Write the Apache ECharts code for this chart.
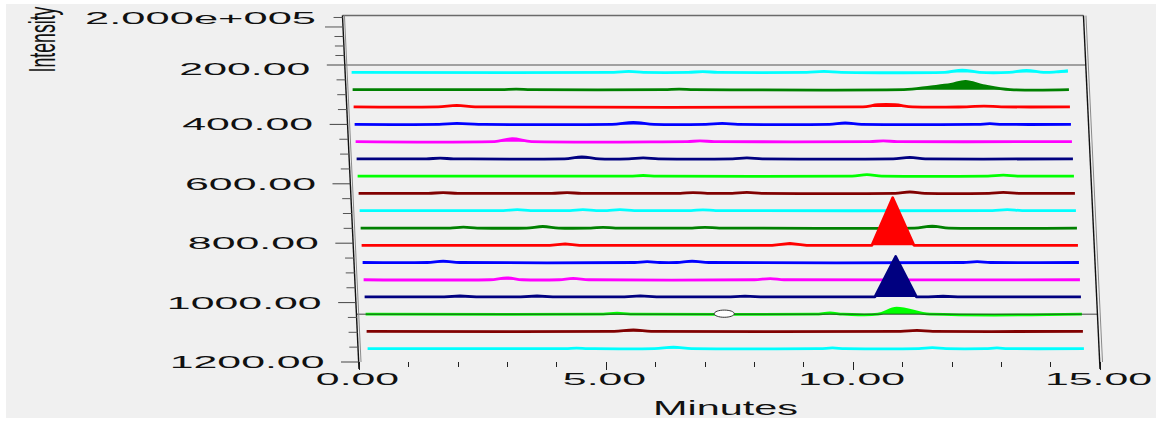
<!DOCTYPE html>
<html><head><meta charset="utf-8">
<script src="https://cdn.jsdelivr.net/npm/echarts@6/dist/echarts.min.js"></script>
<style>html,body{margin:0;padding:0;background:#fff}#c{width:1162px;height:421px}</style>
</head><body><div id="c"></div>
<script>
// ---------- data ----------
const depths = [225, 283, 341, 400, 458, 516, 574, 632, 690, 749, 807, 865, 923, 981, 1039, 1097, 1155];
// each trace: [minutes, intensity]
const trace_225 = [[0.19,0],[5.5,0],[5.8,4000],[6.1,0],[7.0,0],[7.3,3500],[7.6,0],[9.4,0],[9.75,4000],[10.1,0],[12.2,0],[12.55,10000],[12.9,0],[13.5,0],[13.85,8000],[14.2,0],[14.45,2000],[14.69,7000]];
const trace_283 = [[0.19,0],[3.2,0],[3.5,2000],[3.8,0],[6.5,0],[6.8,2500],[7.1,0],[11.35,0],[11.9,12000],[12.3,22000],[12.6,35000],[12.95,17000],[13.5,0],[14.69,0]];
const trace_341 = [[0.19,0],[1.9,0],[2.28,6000],[2.65,0],[10.5,0],[10.8,9000],[11.15,9000],[11.5,0],[12.6,0],[12.95,3500],[13.3,0],[14.69,0]];
const trace_400 = [[0.19,0],[1.9,0],[2.26,4000],[2.7,0],[5.4,0],[5.83,8000],[6.25,0],[7.3,0],[7.63,4000],[7.95,0],[9.8,0],[10.12,6000],[10.45,0],[12.8,0],[13.05,3000],[13.3,0],[14.69,0]];
const trace_458 = [[0.19,0],[3.0,0],[3.36,12000],[3.75,0],[6.9,0],[7.16,3000],[7.45,0],[10.6,0],[10.87,3000],[11.15,0],[14.69,0]];
const trace_516 = [[0.19,0],[1.6,0],[1.88,3000],[2.15,0],[4.4,0],[4.75,8000],[5.1,0],[5.7,0],[5.99,4000],[6.3,0],[7.8,0],[8.09,4000],[8.4,0],[11.05,0],[11.39,6000],[11.7,0],[14.69,0]];
const trace_574 = [[0.19,0],[5.7,0],[5.97,2500],[6.25,0],[10.2,0],[10.5,6000],[10.8,0],[12.95,0],[13.26,4000],[13.55,0],[14.69,0]];
const trace_632 = [[0.19,0],[1.6,0],[1.9,2500],[2.2,0],[4.1,0],[4.41,2500],[4.7,0],[6.7,0],[6.96,3000],[7.25,0],[7.75,0],[8.05,4000],[8.35,0],[11.05,0],[11.35,6000],[11.65,0],[12.95,0],[13.24,4000],[13.55,0],[14.69,0]];
const trace_690 = [[0.19,0],[3.1,0],[3.38,4000],[3.65,0],[4.45,0],[4.71,4000],[4.98,0],[5.2,0],[5.46,4000],[5.75,0],[6.9,0],[7.14,3000],[7.4,0],[13.0,0],[13.3,4000],[13.6,0],[14.69,0]];
const trace_749 = [[0.19,0],[2.0,0],[2.27,3500],[2.55,0],[3.55,0],[3.88,6500],[4.2,0],[4.85,0],[5.1,3000],[5.35,0],[6.9,0],[7.16,3000],[7.45,0],[11.4,0],[11.76,8500],[12.1,0],[14.69,0]];
const trace_807 = [[0.19,0],[4.0,0],[4.31,6000],[4.6,0],[8.5,0],[8.86,8000],[9.2,0],[10.52,0],[10.94,200000],[11.37,0],[14.69,0]];
const trace_865 = [[0.19,0],[1.5,0],[1.82,6000],[2.15,0],[5.7,0],[5.95,4000],[6.2,0],[6.55,0],[6.86,6000],[7.2,0],[12.35,0],[12.63,4000],[12.9,0],[14.69,0]];
const trace_923 = [[0.19,0],[2.75,0],[3.09,8000],[3.4,0],[4.15,0],[4.43,6000],[4.75,0],[8.1,0],[8.42,5000],[8.7,0],[14.69,0]];
const trace_981 = [[0.19,0],[1.8,0],[2.12,4000],[2.45,0],[3.35,0],[3.68,4000],[4.0,0],[5.45,0],[5.77,4500],[6.1,0],[7.6,0],[7.89,3500],[8.2,0],[10.52,0],[10.94,170000],[11.36,0],[11.6,0],[11.9,3000],[12.2,0],[14.69,0]];
const trace_1039 = [[0.19,0],[5.0,0],[5.28,4000],[5.55,0],[9.3,0],[9.59,5000],[9.85,0],[10.56,0],[10.94,25000],[11.61,0],[14.69,0]];
const trace_1097 = [[0.19,0],[5.2,0],[5.59,6000],[5.95,0],[11.0,0],[11.33,4000],[11.65,0],[14.69,0]];
const trace_1155 = [[0.19,0],[4.2,0],[4.42,2500],[4.65,0],[6.0,0],[6.38,6000],[6.75,0],[9.35,0],[9.6,3000],[9.85,0],[11.35,0],[11.62,4000],[11.9,0],[12.7,0],[12.93,3000],[13.15,0],[14.69,0]];
const traces = [trace_225, trace_283, trace_341, trace_400, trace_458, trace_516, trace_574, trace_632, trace_690, trace_749, trace_807, trace_865, trace_923, trace_981, trace_1039, trace_1097, trace_1155];

const xTickValues = [0, 5, 10, 15];
const xTickLabels = ['0.00', '5.00', '10.00', '15.00'];
const depthTickValues = [200, 400, 600, 800, 1000, 1200];
const depthTickLabels = ['200.00', '400.00', '600.00', '800.00', '1000.00', '1200.00'];
const depthMinorTicks = [250, 300, 350, 450, 500, 550, 650, 700, 750, 850, 900, 950, 1050, 1100, 1150];
const intensityTicks = [40000, 80000, 120000, 160000, 200000];
const intensityMajor = [160000];
const intensityMax = 200000;
const intensityMaxLabel = '2.000e+005';
const frameTopIntensity = 208000;
const selectedTraceIndex = 14;
const markerMinutes = 7.45;
const xAxisTitle = 'Minutes';
const yAxisTitle = 'Intensity';

// ---------- style / projection constants ----------
const palette = ['#00ffff', '#008000', '#ff0000', '#0000ff', '#ff00ff', '#000080', '#00ff00', '#800000'];
const FRONT = 1200, BACK = 200, XMAX = 15;
const INT_TO_DEPTH = 0.0008;      // intensity -> depth-axis units (vertical rise)
const TRACE_SKEW = 0.000348;      // minutes of leftward shift per depth unit
const FRAME_SKEW = 0.000287;
const SHARP_PEAK = 100000;        // traces with taller peaks are drawn unsmoothed
const FONT = '"Liberation Sans", Arial, Helvetica, sans-serif';
const TXT = '#111';

const chart = echarts.init(document.getElementById('c'), null, {renderer: 'svg'});

function leftFrame(api, d) { return api.coord([-(FRONT - d) * FRAME_SKEW, d]); }
function rightFrame(api, d) { return api.coord([XMAX - (FRONT - d) * FRAME_SKEW, d]); }

function renderTrace(params, api) {
  const i = params.dataIndex;
  const d = depths[i];
  const tr = traces[i];
  const sh = (FRONT - d) * TRACE_SKEW;
  const pts = tr.map(p => api.coord([p[0] - sh, d - p[1] * INT_TO_DEPTH]));
  const b0 = api.coord([tr[0][0] - sh, d]);
  const b1 = api.coord([tr[tr.length - 1][0] - sh, d]);
  const color = palette[i % palette.length];
  const peak = Math.max.apply(null, tr.map(p => p[1]));
  const sm = peak > SHARP_PEAK ? 0 : 0.35;
  return {type: 'group', children: [
    {type: 'polygon', shape: {points: [b0].concat(pts, [b1]), smooth: 0}, style: {fill: color, stroke: 'none'}},
    {type: 'polyline', shape: {points: pts, smooth: sm}, style: {stroke: color, lineWidth: 2.8, fill: 'none', lineJoin: 'round'}}
  ]};
}

function txt(x, y, text, align, size, sx, extra) {
  return Object.assign({type: 'text', x: x, y: y, scaleX: sx, scaleY: 1,
    style: {text: text, fill: TXT, fontSize: size, fontFamily: FONT, align: align, verticalAlign: 'middle'}}, extra || {});
}

function renderFrame(params, api) {
  const ch = [];
  const topD = BACK - frameTopIntensity * INT_TO_DEPTH;
  const lt = leftFrame(api, topD), lb = leftFrame(api, FRONT);
  const rt = rightFrame(api, topD), rb = rightFrame(api, FRONT);
  const lbk = leftFrame(api, BACK), rbk = rightFrame(api, BACK);
  ch.push({type: 'line', shape: {x1: lbk[0], y1: lbk[1], x2: rbk[0], y2: rbk[1]}, style: {stroke: '#a0a0a0', lineWidth: 2}});
  ch.push({type: 'line', shape: {x1: lt[0], y1: lt[1], x2: rt[0], y2: rt[1]}, style: {stroke: '#6a6a6a', lineWidth: 1.5}});
  ch.push({type: 'line', shape: {x1: lt[0] + 2, y1: lt[1], x2: lb[0] + 2, y2: lb[1]}, style: {stroke: '#8a8a8a', lineWidth: 1}});
  ch.push({type: 'line', shape: {x1: lt[0], y1: lt[1], x2: lb[0], y2: lb[1] + 7}, style: {stroke: '#111', lineWidth: 1.4}});
  ch.push({type: 'line', shape: {x1: rt[0] + 2.5, y1: rt[1], x2: rb[0] + 2.5, y2: rb[1]}, style: {stroke: '#8a8a8a', lineWidth: 1}});
  ch.push({type: 'line', shape: {x1: rt[0], y1: rt[1], x2: rb[0], y2: rb[1] + 7}, style: {stroke: '#111', lineWidth: 1.4}});
  depthTickValues.forEach((v, k) => {
    const p = leftFrame(api, v);
    ch.push({type: 'line', shape: {x1: p[0] - 18, y1: p[1], x2: p[0], y2: p[1]}, style: {stroke: '#444', lineWidth: 1}});
    ch.push(txt(p[0] - 34.5, p[1] + (k === 0 ? 4 : 0), depthTickLabels[k], 'right', 17, 2.52));
  });
  depthMinorTicks.forEach(v => {
    const p = leftFrame(api, v);
    ch.push({type: 'line', shape: {x1: p[0] - 9, y1: p[1], x2: p[0], y2: p[1]}, style: {stroke: '#555', lineWidth: 1}});
  });
  intensityTicks.forEach(v => {
    const d = BACK - v * INT_TO_DEPTH;
    const p = leftFrame(api, d);
    const len = intensityMajor.indexOf(v) >= 0 ? 18 : 9;
    ch.push({type: 'line', shape: {x1: p[0] - len, y1: p[1], x2: p[0], y2: p[1]}, style: {stroke: '#555', lineWidth: 1}});
  });
  const pm = leftFrame(api, BACK - intensityMax * INT_TO_DEPTH);
  ch.push(txt(pm[0] - 26.5, pm[1] + 0.5, intensityMaxLabel, 'right', 17, 2.56));
  xTickValues.forEach((v, k) => {
    const p = api.coord([v, FRONT]);
    ch.push(txt(p[0] - 1.5, p[1] + 17, xTickLabels[k], 'center', 17, 2.52));
  });
  const pt = api.coord([XMAX / 2, FRONT]);
  ch.push(txt(pt[0] - 4, pt[1] + 46, xAxisTitle, 'center', 20, 2.07));
  ch.push({type: 'text', x: 42, y: 39.5, rotation: Math.PI / 2, scaleX: 0.68, scaleY: 1.4,
    style: {text: yAxisTitle, fill: TXT, fontSize: 26, fontFamily: FONT, align: 'center', verticalAlign: 'middle'}});
  return {type: 'group', children: ch};
}

function renderCursor(params, api) {
  const d = depths[selectedTraceIndex];
  const a = leftFrame(api, d), b = rightFrame(api, d);
  const sh = (FRONT - d) * TRACE_SKEW;
  const m = api.coord([markerMinutes - sh, d]);
  return {type: 'group', children: [
    {type: 'line', shape: {x1: a[0], y1: a[1], x2: b[0], y2: b[1]}, style: {stroke: 'rgba(40,40,40,0.85)', lineWidth: 1}},
    {type: 'ellipse', shape: {cx: m[0], cy: m[1] - 0.5, rx: 10, ry: 3.6}, style: {fill: '#ffffff', stroke: '#333', lineWidth: 1}}
  ]};
}

chart.setOption({
  animation: false,
  backgroundColor: '#ffffff',
  graphic: [{type: 'rect', z: -10, shape: {x: 6, y: 4, width: 1150, height: 414}, style: {fill: '#f0f0f0'}}],
  grid: {left: 359, right: 62, top: 65, bottom: 59, containLabel: false},
  xAxis: {type: 'value', min: 0, max: XMAX, interval: 5, position: 'bottom',
    axisLine: {show: false, onZero: false}, splitLine: {show: false},
    axisTick: {show: true, length: 8, lineStyle: {color: '#222', width: 1}},
    minorTick: {show: true, splitNumber: 5, length: 5, lineStyle: {color: '#222', width: 1}},
    axisLabel: {show: false}},
  yAxis: {type: 'value', min: BACK, max: FRONT, inverse: true, show: false},
  series: [
    {type: 'custom', name: 'traces', clip: false, renderItem: renderTrace,
      data: depths.map(d => [0, d]), encode: {x: 0, y: 1}, z: 3},
    {type: 'custom', name: 'cursor', clip: false, renderItem: renderCursor, data: [[0, depths[selectedTraceIndex]]], encode: {x: 0, y: 1}, z: 4},
    {type: 'custom', name: 'frame', clip: false, renderItem: renderFrame, data: [[0, FRONT]], encode: {x: 0, y: 1}, z: 5}
  ]
});
</script></body></html>
